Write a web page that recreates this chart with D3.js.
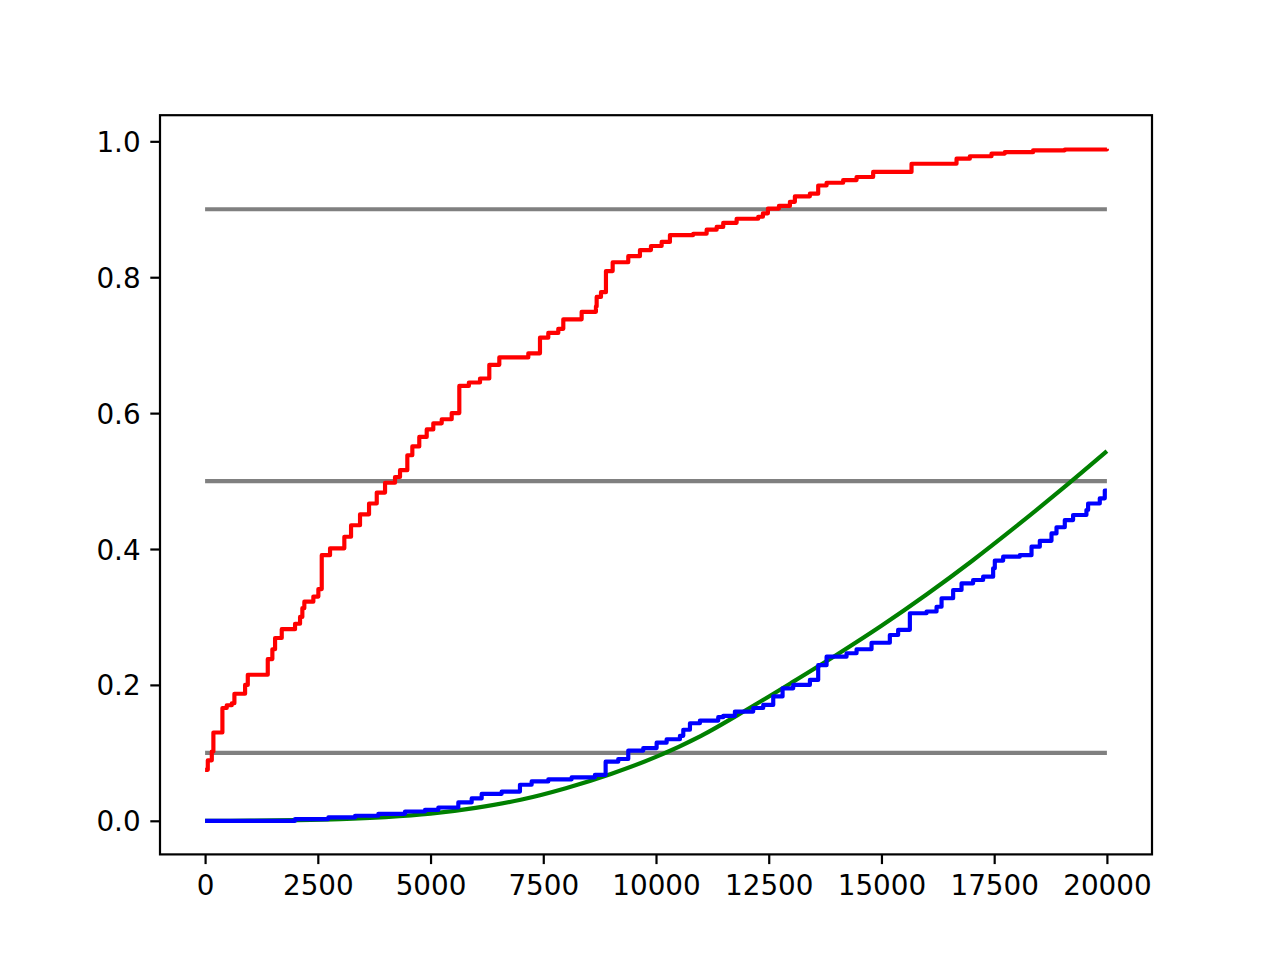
<!DOCTYPE html>
<html>
<head>
<meta charset="utf-8">
<script src="https://cdn.jsdelivr.net/npm/d3@7"></script>
<style>
  body { margin: 0; background: #fff; }
  text { font-family: "DejaVu Sans", sans-serif; }
</style>
</head>
<body>
<div id="chart"></div>
<script>
// figure size and axes box (matplotlib default layout)
var width = 1280,
    height = 960;
var margin = {left: 160, right: 128, top: 115.2, bottom: 105.6};

// red step series
var redX = [0, 60, 149, 184, 384, 480, 592, 650, 887, 947, 1390, 1492, 1552, 1700, 1995, 2106, 2157, 2201, 2401, 2512,
  2587, 2771, 3088, 3237, 3436, 3636, 3807, 3991, 4212, 4323, 4485, 4596, 4750, 4915, 5061, 5248, 5469, 5638, 5850, 6097,
  6303, 6525, 7168, 7427, 7611, 7833, 7944, 8351, 8668, 8684, 8780, 8890, 9039, 9385, 9644, 9888, 10125, 10309, 10826, 11123,
  11345, 11491, 11788, 12267, 12371, 12482, 12726, 12970, 13080, 13413, 13597, 13783, 14151, 14448, 14816, 15667, 16665, 16960, 17441, 17736,
  18363, 19066, 20000];
var redY = [0.075, 0.089, 0.102, 0.130, 0.166, 0.170, 0.173, 0.187, 0.200, 0.215, 0.238, 0.2525, 0.269, 0.282, 0.290, 0.300, 0.313, 0.3225, 0.330, 0.341,
  0.391, 0.401, 0.418, 0.435, 0.451, 0.467, 0.483, 0.4975, 0.506, 0.516, 0.538, 0.551, 0.565, 0.576, 0.585, 0.591, 0.600, 0.640, 0.645, 0.651,
  0.671, 0.682, 0.688, 0.711, 0.718, 0.724, 0.738, 0.749, 0.757, 0.771, 0.778, 0.809, 0.822, 0.831, 0.840, 0.846, 0.852, 0.862, 0.864, 0.870,
  0.874, 0.880, 0.886, 0.889, 0.894, 0.901, 0.905, 0.911, 0.919, 0.923, 0.935, 0.939, 0.943, 0.9475, 0.955, 0.967, 0.9745, 0.978, 0.982, 0.984,
  0.9868, 0.988, 0.989];

// blue step series
var blueX = [0, 1995, 2734, 3326, 3843, 4434, 4877, 5173, 5616, 5912, 6134, 6577, 6983, 7242, 7612, 8129, 8646, 8883, 9163, 9385,
  9718, 10014, 10236, 10531, 10605, 10753, 10974, 11380, 11491, 11750, 12156, 12378, 12600, 12807, 13043, 13413, 13597, 13783, 14226, 14448,
  14780, 15186, 15370, 15630, 16000, 16222, 16333, 16590, 16776, 17033, 17255, 17477, 17514, 17699, 18068, 18328, 18512, 18771, 18882, 19066,
  19250, 19546, 19583, 19842, 19953, 20000];
var blueY = [0, 0.0025, 0.005, 0.0074, 0.0103, 0.0137, 0.016, 0.0196, 0.027, 0.033, 0.0397, 0.043, 0.053, 0.058, 0.061, 0.064, 0.0676, 0.087, 0.091, 0.1034,
  0.107, 0.115, 0.120, 0.125, 0.134, 0.1436, 0.1475, 0.1525, 0.1544, 0.1607, 0.166, 0.1706, 0.183, 0.195, 0.200, 0.2074, 0.229, 0.2416, 0.2466, 0.2525,
  0.262, 0.2735, 0.281, 0.3054, 0.308, 0.315, 0.3275, 0.3397, 0.3495, 0.3544, 0.3593, 0.3716, 0.383, 0.3887, 0.391, 0.4034, 0.412, 0.423, 0.432, 0.4426,
  0.45, 0.4574, 0.467, 0.4746, 0.486, 0.486];

// green smooth curve
var greenX = [0, 1000, 2000, 3000, 4000, 5000, 6000, 7000, 8000, 9000, 10000, 11000, 12000, 13000, 14000, 15000, 16000, 17000, 18000, 19000, 20000];
var greenY = [0, 0.0002, 0.001, 0.0025, 0.0055, 0.0105, 0.019, 0.031, 0.048, 0.069, 0.094, 0.125, 0.163, 0.203, 0.244, 0.287, 0.333, 0.382, 0.434, 0.488, 0.544];

// gray reference levels
var hlineLevels = [0.1, 0.5, 0.9];
var hlineStart = 0, hlineEnd = 20000;

var xTicks = [0, 2500, 5000, 7500, 10000, 12500, 15000, 17500, 20000];
var yTicks = [0.0, 0.2, 0.4, 0.6, 0.8, 1.0];

function zipPts(xs, ys) {
  return xs.map(function(x, i) { return {x: x, y: ys[i]}; });
}
var red = zipPts(redX, redY),
    blue = zipPts(blueX, blueY),
    green = zipPts(greenX, greenY);

// data limits plus 5% margin, like matplotlib autoscale
var allX = redX.concat(blueX, greenX, [hlineStart, hlineEnd]);
var allY = redY.concat(blueY, greenY, hlineLevels);
var xExt = d3.extent(allX), yExt = d3.extent(allY);
var xPad = (xExt[1] - xExt[0]) * 0.05, yPad = (yExt[1] - yExt[0]) * 0.05;

var x = d3.scaleLinear()
  .domain([xExt[0] - xPad, xExt[1] + xPad])
  .range([margin.left, width - margin.right]);
var y = d3.scaleLinear()
  .domain([yExt[0] - yPad, yExt[1] + yPad])
  .range([height - margin.bottom, margin.top]);

var svg = d3.select("#chart").append("svg")
  .attr("width", width)
  .attr("height", height);

var lw = 4.17; // 1.5pt at 200dpi
var tickLen = 9.7, tickPad = 9.7, fontSize = 27.8;

// hlines
svg.append("g").selectAll("line")
  .data(hlineLevels)
  .enter().append("line")
  .attr("x1", x(hlineStart))
  .attr("x2", x(hlineEnd))
  .attr("y1", function(d) { return y(d); })
  .attr("y2", function(d) { return y(d); })
  .attr("stroke", "#808080")
  .attr("stroke-width", lw);

var stepLine = d3.line()
  .x(function(d) { return x(d.x); })
  .y(function(d) { return y(d.y); })
  .curve(d3.curveStepAfter);

var smoothLine = d3.line()
  .x(function(d) { return x(d.x); })
  .y(function(d) { return y(d.y); })
  .curve(d3.curveMonotoneX);

svg.append("path")
  .datum(red)
  .attr("d", stepLine)
  .attr("fill", "none")
  .attr("stroke", "#ff0000")
  .attr("stroke-width", lw)
  .attr("stroke-linejoin", "round");

svg.append("path")
  .datum(green)
  .attr("d", smoothLine)
  .attr("fill", "none")
  .attr("stroke", "#008000")
  .attr("stroke-width", lw);

svg.append("path")
  .datum(blue)
  .attr("d", stepLine)
  .attr("fill", "none")
  .attr("stroke", "#0000ff")
  .attr("stroke-width", lw)
  .attr("stroke-linejoin", "round");

// axes
var xAxis = d3.axisBottom(x)
  .tickValues(xTicks)
  .tickFormat(d3.format("d"))
  .tickSizeInner(tickLen)
  .tickSizeOuter(0)
  .tickPadding(tickPad);
var yAxis = d3.axisLeft(y)
  .tickValues(yTicks)
  .tickFormat(d3.format(".1f"))
  .tickSizeInner(tickLen)
  .tickSizeOuter(0)
  .tickPadding(tickPad);

var gx = svg.append("g")
  .attr("transform", "translate(0," + (height - margin.bottom) + ")")
  .call(xAxis);
var gy = svg.append("g")
  .attr("transform", "translate(" + margin.left + ",0)")
  .call(yAxis);

[gx, gy].forEach(function(g) {
  g.select(".domain").remove();
  g.selectAll(".tick line").attr("stroke", "#000").attr("stroke-width", 2.2);
  g.selectAll(".tick text")
    .attr("fill", "#000")
    .style("font-size", fontSize + "px")
    .style("font-family", "'DejaVu Sans', sans-serif");
});
gx.selectAll(".tick text").attr("dy", "0.76em");
gy.selectAll(".tick text").attr("dy", "0.36em");

// axes frame
svg.append("rect")
  .attr("x", margin.left)
  .attr("y", margin.top)
  .attr("width", width - margin.left - margin.right)
  .attr("height", height - margin.top - margin.bottom)
  .attr("fill", "none")
  .attr("stroke", "#000")
  .attr("stroke-width", 2.2);
</script>
</body>
</html>
